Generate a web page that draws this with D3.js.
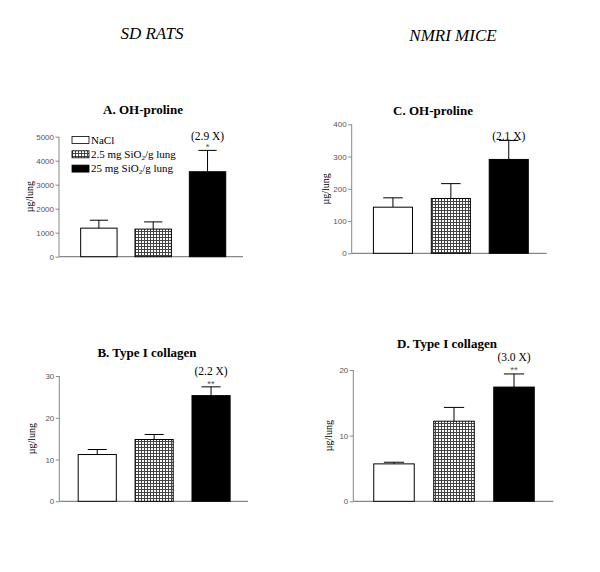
<!DOCTYPE html>
<html><head><meta charset="utf-8">
<script src="https://cdn.jsdelivr.net/npm/d3@7"></script>
<style>body{margin:0;background:#fff}svg{display:block}</style>
</head><body>
<script>
const groups = ["NaCl", "2.5 mg SiO2/g lung", "25 mg SiO2/g lung"];

// A. OH-proline (SD rats)
const ratHydroxyMean = [1190, 1150, 3540];
const ratHydroxyErr  = [1520, 1450, 4430];
const ratHydroxyTicks = [0, 1000, 2000, 3000, 4000, 5000];
// B. Type I collagen (SD rats)
const ratCollagenMean = [11.2, 14.8, 25.3];
const ratCollagenErr  = [12.4, 16.0, 27.4];
const ratCollagenTicks = [0, 10, 20, 30];
// C. OH-proline (NMRI mice)
const mouseHydroxyMean = [143, 170, 291];
const mouseHydroxyErr  = [172, 216, 350];
const mouseHydroxyTicks = [0, 100, 200, 300, 400];
// D. Type I collagen (NMRI mice)
const mouseCollagenMean = [5.7, 12.2, 17.4];
const mouseCollagenErr  = [5.95, 14.3, 19.4];
const mouseCollagenTicks = [0, 10, 20];

const fills = ["#fff", "url(#grid)", "#000"];
const SERIF = "'Liberation Serif', 'DejaVu Serif', serif";
const SANS = "'Liberation Sans', 'DejaVu Sans', sans-serif";

const svg = d3.select("body").append("svg").attr("width", 600).attr("height", 572);
const defs = svg.append("defs");
const pat = defs.append("pattern").attr("id", "grid").attr("patternUnits", "userSpaceOnUse")
  .attr("width", 3).attr("height", 3);
pat.append("rect").attr("width", 3).attr("height", 3).attr("fill", "#fff");
pat.append("rect").attr("width", 3).attr("height", 1).attr("fill", "#444");
pat.append("rect").attr("width", 1).attr("height", 3).attr("fill", "#444");

svg.append("text").attr("x", 152).attr("y", 39).attr("text-anchor", "middle")
  .attr("font-family", SERIF).attr("font-style", "italic")
  .attr("font-size", 17).text("SD RATS");
svg.append("text").attr("x", 453).attr("y", 41).attr("text-anchor", "middle")
  .attr("font-family", SERIF).attr("font-style", "italic")
  .attr("font-size", 17).text("NMRI MICE");

function panel(o) {
  const g = svg.append("g");
  const y = d3.scaleLinear().domain(o.domain).range([o.y0, o.y1]);
  const x = d3.scaleBand().domain(groups).range(o.barRange).paddingInner(o.pi).paddingOuter(o.pi / 2);
  g.append("text").attr("x", o.titleX).attr("y", o.titleY).attr("text-anchor", "middle")
    .attr("font-family", SERIF).attr("font-weight", "bold")
    .attr("font-size", 13).text(o.title);
  const ax = g.append("g").attr("transform", `translate(${o.axisX},0)`)
    .call(d3.axisLeft(y).tickValues(o.ticks).tickSize(3.5).tickPadding(1.5).tickFormat(d3.format("d")));
  ax.select(".domain").attr("stroke", "#888").attr("d", `M0,${o.y0}V${o.y1}`);
  ax.selectAll(".tick line").attr("stroke", "#888");
  ax.selectAll(".tick text").attr("fill", "#555").attr("font-size", 8)
    .attr("font-family", SANS);
  g.append("line").attr("x1", o.axisX).attr("x2", o.axisEnd).attr("y1", o.y0).attr("y2", o.y0)
    .attr("stroke", "#888").attr("stroke-width", 1.2);
  g.append("text").attr("transform", `translate(${o.labelX},${(o.y0 + o.y1) / 2}) rotate(-90)`)
    .attr("text-anchor", "middle").attr("font-family", SERIF)
    .attr("font-size", 10).text("µg/lung");
  const bw = x.bandwidth();
  groups.forEach((gr, i) => {
    const cx = x(gr) + bw / 2;
    g.append("line").attr("x1", cx).attr("x2", cx).attr("y1", y(o.mean[i])).attr("y2", y(o.err[i]))
      .attr("stroke", "#000").attr("stroke-width", 1);
    g.append("line").attr("x1", cx - bw / 4).attr("x2", cx + bw / 4).attr("y1", y(o.err[i])).attr("y2", y(o.err[i]))
      .attr("stroke", "#000").attr("stroke-width", 1);
  });
  g.selectAll("rect.bar").data(groups).join("rect").attr("class", "bar")
    .attr("x", d => x(d)).attr("width", bw)
    .attr("y", (d, i) => y(o.mean[i])).attr("height", (d, i) => o.y0 - y(o.mean[i]))
    .attr("fill", (d, i) => fills[i]).attr("stroke", "#000").attr("stroke-width", 1);
  const cx3 = x(groups[2]) + bw / 2;
  g.append("text").attr("x", cx3).attr("y", o.foldY).attr("text-anchor", "middle")
    .attr("font-family", SERIF).attr("font-size", 11.5).text(o.fold);
  if (o.star) g.append("text").attr("x", cx3).attr("y", o.starY).attr("text-anchor", "middle")
    .attr("font-family", SANS).attr("fill", "#555").attr("font-size", 9.5).text(o.star);
  return g;
}

panel({title: "A. OH-proline", titleX: 143, titleY: 114, domain: [0, 5000], ticks: ratHydroxyTicks,
  y0: 256.7, y1: 136.7, axisX: 59, axisEnd: 243, barRange: [71.7, 234.7], pi: 0.33, labelX: 33,
  mean: ratHydroxyMean, err: ratHydroxyErr, fold: "(2.9 X)", foldY: 140, star: "*", starY: 150});
panel({title: "B. Type I collagen", titleX: 147, titleY: 357, domain: [0, 30], ticks: ratCollagenTicks,
  y0: 501.3, y1: 376, axisX: 59.3, axisEnd: 248, barRange: [68.8, 239.5], pi: 0.33, labelX: 35,
  mean: ratCollagenMean, err: ratCollagenErr, fold: "(2.2 X)", foldY: 375, star: "**", starY: 387});
panel({title: "C. OH-proline", titleX: 433, titleY: 115, domain: [0, 400], ticks: mouseHydroxyTicks,
  y0: 253.3, y1: 124.3, axisX: 351.7, axisEnd: 546.7, barRange: [364, 537.7], pi: 0.325, labelX: 329,
  mean: mouseHydroxyMean, err: mouseHydroxyErr, fold: "(2.1 X)", foldY: 139.5, star: null});
panel({title: "D. Type I collagen", titleX: 447, titleY: 348, domain: [0, 20], ticks: mouseCollagenTicks,
  y0: 501.3, y1: 370, axisX: 353.3, axisEnd: 553.3, barRange: [364, 544], pi: 0.325, labelX: 332,
  mean: mouseCollagenMean, err: mouseCollagenErr, fold: "(3.0 X)", foldY: 361, star: "**", starY: 373});

const leg = svg.append("g");
groups.forEach((gr, i) => {
  const yy = 140 + i * 14.3;
  leg.append("rect").attr("x", 72).attr("y", yy - 3.5).attr("width", 17).attr("height", 7)
    .attr("fill", fills[i]).attr("stroke", "#000").attr("stroke-width", 0.8);
  const t = leg.append("text").attr("x", 91).attr("y", yy + 3.5)
    .attr("font-family", SERIF).attr("font-size", 11);
  const m = gr.match(/^(.*SiO)2(.*)$/);
  if (m) {
    t.append("tspan").text(m[1]);
    t.append("tspan").attr("font-size", 7).attr("dy", 2).text("2");
    t.append("tspan").attr("dy", -2).text(m[2]);
  } else t.text(gr);
});
</script>
</body></html>
